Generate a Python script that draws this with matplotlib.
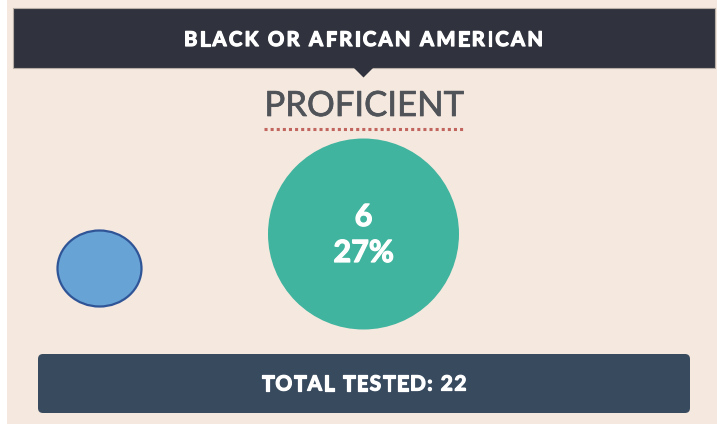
import matplotlib.pyplot as plt
import matplotlib.patheffects as pe
from matplotlib.font_manager import FontProperties
from matplotlib.patches import Rectangle, Circle, Ellipse, Polygon, FancyBboxPatch

# chart content
group_name = "BLACK OR AFRICAN AMERICAN"
level_name = "PROFICIENT"
level_count = 6
level_percent = 27
total_tested = 22

W, H = 717, 429
fig = plt.figure(figsize=(W / 100, H / 100), dpi=100)
ax = fig.add_axes([0, 0, 1, 1])
ax.set_xlim(0, W)
ax.set_ylim(H, 0)
ax.axis('off')

font = ['Lato', 'DejaVu Sans']
renderer = fig.canvas.get_renderer()
# Lato here has no black weight, so thicken the bold glyphs a little
thick = [pe.withStroke(linewidth=0.9, foreground='white')]


def tracked_text(x_center, y, s, width, size, color):
    # letter-spaced text: spread the glyphs so the line is `width` px wide
    prop = FontProperties(family=font, size=size, weight='bold')
    adv = [renderer.get_text_width_height_descent(c, prop, ismath=False)[0]
           for c in s]
    gap = (width - sum(adv)) / (len(s) - 1)
    x = x_center - width / 2
    for c, a in zip(s, adv):
        ax.text(x, y, c, fontproperties=prop, color=color,
                ha='left', va='center', path_effects=thick)
        x += a + gap


# card background
ax.add_patch(Rectangle((7, 0), W - 7, 424, facecolor='#F5E8DF', edgecolor='none'))

# header bar with pointer
ax.add_patch(Rectangle((13, 8), 702, 60, facecolor='#30333D',
                       edgecolor='#B8AEA8', linewidth=0.8))
ax.add_patch(Polygon([(353, 67), (374, 67), (363.5, 77.5)], closed=True,
                     facecolor='#30333D', edgecolor='none'))
tracked_text(363.5, 40, group_name, 359, 14.6, 'white')

# level title with dotted underline
ax.text(364, 106, level_name, color='#505459', fontsize=25, family=font,
        ha='center', va='center',
        path_effects=[pe.withStroke(linewidth=0.5, foreground='#505459')])
ax.plot([264, 464], [128.5, 128.5], color='#C2655F', linewidth=2.2,
        linestyle=(0, (1, 1)), dash_capstyle='butt')

# value circle
ax.add_patch(Circle((363.5, 234), 95.5, facecolor='#40B49E', edgecolor='none'))
ax.text(363.5, 217, str(level_count), color='white', fontsize=22,
        fontweight='bold', family=font, ha='center', va='center',
        path_effects=thick)
ax.text(363.5, 253, f"{level_percent}%", color='white', fontsize=22,
        fontweight='bold', family=font, ha='center', va='center',
        path_effects=thick)

# stray blue ellipse
ax.add_patch(Ellipse((99.5, 268.5), 84, 76, facecolor='#68A3D6',
                     edgecolor='#2F5597', linewidth=1.6))

# total tested bar
ax.add_patch(FancyBboxPatch((38, 354), 652, 59,
                            boxstyle='round,pad=0,rounding_size=5',
                            facecolor='#384A5E', edgecolor='none'))
tracked_text(364, 384.5, f"TOTAL TESTED: {total_tested}", 205, 15, 'white')

fig.savefig('out.png', dpi=100)
